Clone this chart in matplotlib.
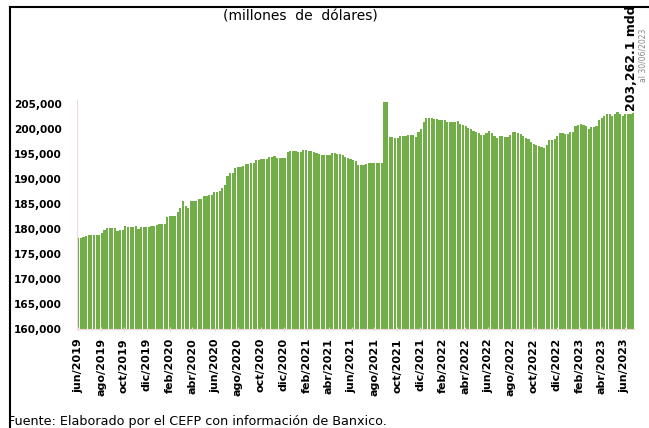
import pandas as pd
import matplotlib.pyplot as plt
from matplotlib.lines import Line2D

# weekly international reserves (millones de dólares), jun/2019 - jun/2023
reservas = [
    178200, 178200, 178300, 178500, 178700, 178700, 178800, 178800, 178800, 179200,
    179700, 180200, 180200, 180200, 180200, 179500, 179800, 179800, 180600, 180300,
    180300, 180300, 180500, 180000, 180400, 180400, 180400, 180300, 180500, 180500,
    180800, 181000, 181000, 181000, 182300, 182600, 182600, 182600, 183300, 184100,
    185600, 184600, 184100, 185500, 185500, 185500, 186000, 186000, 186600, 186600,
    186800, 186800, 187300, 187300, 187600, 188100, 188800, 190500, 191100, 191100,
    192100, 192300, 192300, 192500, 193000, 193000, 193100, 193100, 193800, 193800,
    193900, 193900, 193900, 194300, 194300, 194600, 194100, 194100, 194100, 194100,
    195300, 195500, 195500, 195500, 195300, 195300, 195800, 195800, 195600, 195600,
    195400, 195100, 194900, 194800, 194800, 194800, 194800, 195100, 195100, 195000,
    194900, 194700, 194300, 194100, 193900, 193700, 193500, 192800, 192800, 192800,
    193000, 193100, 193100, 193200, 193200, 193100, 193100, 205300, 205300, 198300,
    198300, 198100, 198200, 198500, 198500, 198500, 198700, 198800, 198800, 198300,
    199300, 200000, 201300, 202100, 202100, 202100, 201900, 201900, 201700, 201700,
    201700, 201400, 201400, 201300, 201300, 201500, 200900, 200700, 200500, 200200,
    200000, 199500, 199300, 199100, 198700, 198800, 199100, 199500, 199200, 198600,
    198100, 198600, 198600, 198300, 198300, 198800, 199300, 199300, 199100, 198900,
    198500, 198100, 197900, 197400, 197000, 196700, 196500, 196300, 196100, 196700,
    197700, 197700, 198000, 198600, 199100, 199100, 198900, 198900, 199400, 199400,
    200500, 200800, 201000, 200800, 200500, 200000, 200300, 200300, 200500, 201700,
    202100, 202500, 202900, 202900, 202600, 203000, 203300, 203000, 202500, 202900,
    202900, 202900, 203262.1,
]
fechas = pd.date_range("2019-06-07", periods=len(reservas), freq="7D")

etiquetas = ["jun/2019", "ago/2019", "oct/2019", "dic/2019", "feb/2020", "abr/2020",
             "jun/2020", "ago/2020", "oct/2020", "dic/2020", "feb/2021", "abr/2021",
             "jun/2021", "ago/2021", "oct/2021", "dic/2021", "feb/2022", "abr/2022",
             "jun/2022", "ago/2022", "oct/2022", "dic/2022", "feb/2023", "abr/2023",
             "jun/2023"]
fechas_etiquetas = pd.date_range("2019-06-07", periods=len(etiquetas),
                                 freq=pd.DateOffset(months=2))

yticks = list(range(160000, 205001, 5000))

fig = plt.figure(figsize=(6.49, 4.28), dpi=100)
ax = fig.add_axes([0.1186, 0.2313, 0.859, 0.5351])

ax.bar(fechas, reservas, width=5.8, color="#72ae48", edgecolor="none")

ax.set_xlim(fechas[0] - pd.Timedelta(days=3.5), fechas[-1] + pd.Timedelta(days=3.5))
ax.set_ylim(160000, 205800)
ax.set_yticks(yticks)
ax.set_yticklabels([f"{v:,}" for v in yticks], fontsize=7.6, fontweight="bold")
ax.set_xticks(fechas_etiquetas)
ax.set_xticklabels(etiquetas, rotation=90, fontsize=8, fontweight="bold")

for s in ["top", "right"]:
    ax.spines[s].set_visible(False)
for s in ["left", "bottom"]:
    ax.spines[s].set_color("#efd9d8")
ax.tick_params(axis="y", length=0, pad=11)
ax.tick_params(axis="x", length=3, color="#efd9d8", direction="inout", pad=5)

# titles and notes
fig.text(0.463, 0.962, "(millones  de  dólares)", ha="center", va="center", fontsize=10)
fig.text(0.973, 0.865, "203,262.1 mdd", rotation=90, ha="center", va="center",
         fontsize=9, fontweight="bold")
fig.text(0.99, 0.87, "al 30/06/2023", rotation=90, ha="center", va="center",
         fontsize=5.5, color="#888888")
fig.text(0.012, 0.016, "Fuente: Elaborado por el CEFP con información de Banxico.",
         ha="left", va="center", fontsize=9.2)

# outer frame
fig.add_artist(Line2D([0.016, 1.0], [0.984, 0.984], color="black", lw=1.5,
                      transform=fig.transFigure))
fig.add_artist(Line2D([0.016, 0.016], [0.0, 0.984], color="black", lw=1.5,
                      transform=fig.transFigure))

plt.savefig("out.png", dpi=100)
